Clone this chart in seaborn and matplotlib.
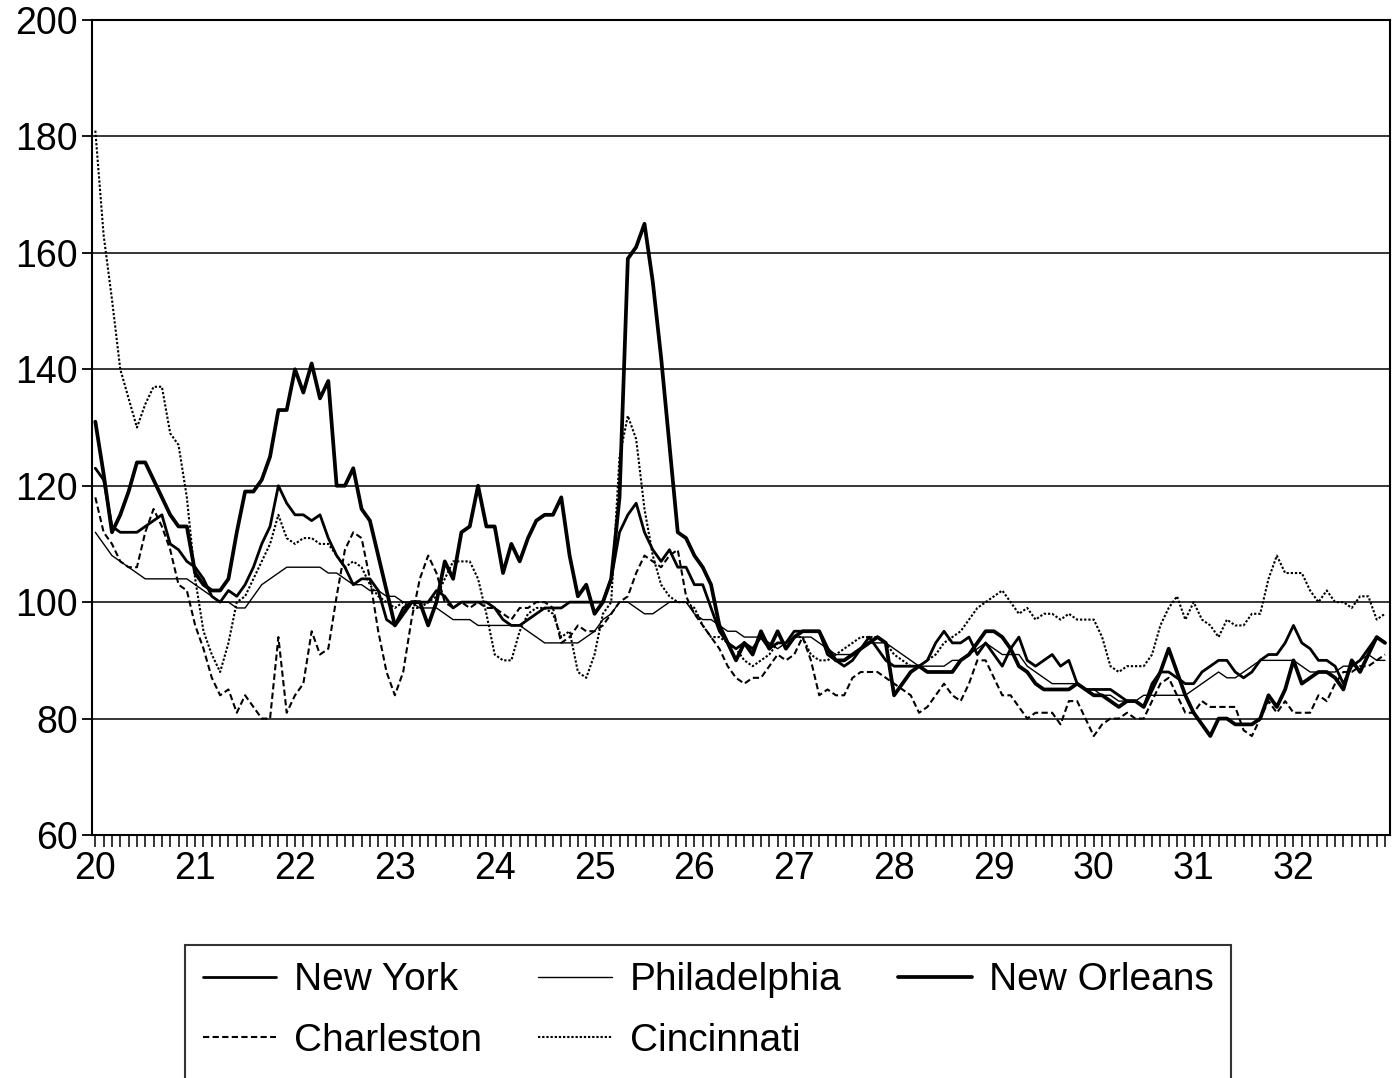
import numpy as np
import pandas as pd
import matplotlib
matplotlib.use("Agg")
import matplotlib.pyplot as plt
from matplotlib.lines import Line2D
import seaborn as sns

# Monthly price index, Jan 1820 - Dec 1832 (one row of 12 per year)
years = list(range(1820, 1833))
year_labels = [str(y)[2:] for y in years]
y_ticks = [60, 80, 100, 120, 140, 160, 180, 200]

new_york = [
    123, 121, 113, 112, 112, 112, 113, 114, 115, 110, 109, 107,
    106, 104, 101, 100, 102, 101, 103, 106, 110, 113, 120, 117,
    115, 115, 114, 115, 111, 108, 106, 103, 104, 104, 102, 97,
    96, 99, 100, 100, 100, 102, 101, 99, 100, 100, 100, 100,
    99, 97, 96, 96, 97, 98, 99, 99, 99, 100, 100, 100,
    100, 100, 104, 112, 115, 117, 112, 109, 107, 109, 106, 106,
    103, 103, 99, 95, 93, 92, 93, 92, 94, 92, 93, 93,
    95, 95, 95, 95, 91, 90, 89, 90, 92, 94, 92, 90,
    89, 89, 89, 89, 90, 93, 95, 93, 93, 94, 91, 93,
    91, 89, 92, 94, 90, 89, 90, 91, 89, 90, 86, 85,
    85, 85, 85, 84, 83, 83, 82, 86, 88, 88, 87, 86,
    86, 88, 89, 90, 90, 88, 87, 88, 90, 91, 91, 93,
    96, 93, 92, 90, 90, 89, 86, 89, 90, 92, 94, 93,
]

philadelphia = [
    112, 110, 108, 107, 106, 105, 104, 104, 104, 104, 104, 104,
    103, 102, 101, 100, 100, 99, 99, 101, 103, 104, 105, 106,
    106, 106, 106, 106, 105, 105, 104, 103, 103, 102, 102, 101,
    101, 100, 100, 99, 99, 99, 98, 97, 97, 97, 96, 96,
    96, 96, 96, 96, 95, 94, 93, 93, 93, 93, 93, 94,
    95, 97, 98, 100, 100, 99, 98, 98, 99, 100, 100, 100,
    98, 97, 97, 96, 95, 95, 94, 94, 94, 93, 92, 93,
    94, 94, 94, 93, 92, 91, 91, 91, 92, 93, 93, 93,
    92, 91, 90, 89, 89, 89, 89, 90, 90, 91, 92, 93,
    92, 91, 91, 91, 89, 88, 87, 86, 86, 86, 86, 85,
    85, 84, 84, 83, 83, 83, 84, 84, 84, 84, 84, 84,
    85, 86, 87, 88, 87, 87, 88, 89, 90, 90, 90, 90,
    90, 89, 88, 88, 88, 88, 89, 89, 90, 91, 90, 90,
]

new_orleans = [
    131, 122, 112, 115, 119, 124, 124, 121, 118, 115, 113, 113,
    105, 103, 102, 102, 104, 112, 119, 119, 121, 125, 133, 133,
    140, 136, 141, 135, 138, 120, 120, 123, 116, 114, 108, 102,
    96, 98, 100, 100, 96, 100, 107, 104, 112, 113, 120, 113,
    113, 105, 110, 107, 111, 114, 115, 115, 118, 108, 101, 103,
    98, 100, 104, 118, 159, 161, 165, 155, 142, 127, 112, 111,
    108, 106, 103, 96, 93, 90, 93, 91, 95, 92, 95, 92,
    94, 95, 95, 95, 92, 90, 90, 91, 92, 93, 94, 93,
    84, 86, 88, 89, 88, 88, 88, 88, 90, 91, 93, 95,
    95, 94, 92, 89, 88, 86, 85, 85, 85, 85, 86, 85,
    84, 84, 83, 82, 83, 83, 82, 85, 88, 92, 88, 84,
    81, 79, 77, 80, 80, 79, 79, 79, 80, 84, 82, 85,
    90, 86, 87, 88, 88, 87, 85, 90, 88, 91, 94, 93,
]

charleston = [
    118, 112, 110, 107, 106, 106, 112, 116, 113, 109, 103, 102,
    96, 92, 87, 84, 85, 81, 84, 82, 80, 80, 94, 81,
    84, 86, 95, 91, 92, 101, 109, 112, 111, 104, 95, 88,
    84, 88, 97, 104, 108, 105, 100, 99, 100, 99, 100, 99,
    99, 98, 97, 99, 99, 100, 100, 99, 93, 94, 96, 95,
    95, 96, 98, 100, 101, 105, 108, 107, 106, 108, 109, 101,
    98, 96, 94, 92, 89, 87, 86, 87, 87, 89, 91, 90,
    91, 94, 90, 84, 85, 84, 84, 87, 88, 88, 88, 87,
    86, 85, 84, 81, 82, 84, 86, 84, 83, 86, 90, 90,
    87, 84, 84, 82, 80, 81, 81, 81, 79, 83, 83, 80,
    77, 79, 80, 80, 81, 80, 80, 83, 86, 87, 84, 81,
    81, 83, 82, 82, 82, 82, 78, 77, 80, 83, 81, 83,
    81, 81, 81, 84, 83, 86, 88, 88, 89, 89, 90, 91,
]

cincinnati = [
    181, 163, 152, 140, 135, 130, 134, 137, 137, 129, 127, 118,
    104, 95, 91, 88, 93, 100, 101, 104, 107, 110, 115, 111,
    110, 111, 111, 110, 110, 108, 106, 107, 106, 103, 101, 100,
    99, 100, 99, 99, 100, 101, 104, 107, 107, 107, 104, 98,
    91, 90, 90, 95, 98, 99, 99, 98, 94, 95, 88, 87,
    91, 98, 100, 125, 132, 128, 116, 108, 103, 101, 100, 100,
    99, 96, 94, 94, 93, 92, 90, 89, 90, 91, 93, 93,
    94, 94, 91, 90, 90, 91, 92, 93, 94, 94, 94, 93,
    91, 90, 89, 89, 90, 91, 93, 94, 95, 97, 99, 100,
    101, 102, 100, 98, 99, 97, 98, 98, 97, 98, 97, 97,
    97, 94, 89, 88, 89, 89, 89, 91, 96, 99, 101, 97,
    100, 97, 96, 94, 97, 96, 96, 98, 98, 104, 108, 105,
    105, 105, 102, 100, 102, 100, 100, 99, 101, 101, 97, 98,
]

cities = ["Philadelphia", "Charleston", "Cincinnati", "New York", "New Orleans"]
series = {
    "New York": new_york,
    "Philadelphia": philadelphia,
    "New Orleans": new_orleans,
    "Charleston": charleston,
    "Cincinnati": cincinnati,
}

n_months = len(years) * 12
frames = []
for city in cities:
    frames.append(pd.DataFrame({"month": np.arange(n_months),
                                "value": series[city],
                                "city": city}))
df = pd.concat(frames, ignore_index=True)

palette = {c: "black" for c in cities}
sizes = {"New York": 2.0, "Philadelphia": 1.0, "New Orleans": 2.7,
         "Charleston": 1.5, "Cincinnati": 1.5}
dashes = {"New York": "", "Philadelphia": "", "New Orleans": "",
          "Charleston": (3, 1.6), "Cincinnati": (1.1, 0.9)}

sns.set_theme(style="white")
plt.rcParams["font.family"] = ["Liberation Sans", "DejaVu Sans"]
plt.rcParams["text.color"] = "black"

fig = plt.figure(figsize=(13.98, 10.78), dpi=100)
ax = fig.add_axes([92 / 1398, 1 - 835 / 1078, (1390 - 92) / 1398, (835 - 20) / 1078])

sns.lineplot(data=df, x="month", y="value", hue="city", style="city", size="city",
             hue_order=cities, style_order=cities, size_order=cities,
             palette=palette, sizes=sizes, dashes=dashes,
             estimator=None, sort=False, legend=False, ax=ax)

ax.set_xlim(-0.4, n_months - 0.4)
ax.set_ylim(60, 200)
ax.set_yticks(y_ticks)
ax.set_yticklabels([str(v) for v in y_ticks])
ax.set_xticks(np.arange(0, n_months, 12))
ax.set_xticklabels(year_labels)
ax.set_xticks(np.arange(n_months), minor=True)
ax.set_xlabel("")
ax.set_ylabel("")

ax.yaxis.grid(True, color="black", linewidth=1.1)
ax.xaxis.grid(False)
ax.set_axisbelow(True)

for side in ["left", "bottom", "top", "right"]:
    ax.spines[side].set_visible(True)
    ax.spines[side].set_color("black")
    ax.spines[side].set_linewidth(1.5)

ax.tick_params(axis="y", which="major", direction="out", length=7, width=1.3,
               pad=3, labelsize=27, colors="black", left=True)
ax.tick_params(axis="x", which="both", direction="out", length=8.5, width=1.1,
               bottom=True, colors="black")
ax.tick_params(axis="x", which="major", pad=3, labelsize=27)

# Legend below the plot, three columns filled column by column
def handle(city):
    return Line2D([], [], color="black", linewidth=sizes[city],
                  dashes=dashes[city] if dashes[city] else (None, None))

blank = Line2D([], [], color="none")
handles = [handle("New York"), handle("Charleston"), blank,
           handle("Philadelphia"), handle("Cincinnati"), blank,
           handle("New Orleans"), blank, blank]
labels = ["New York", "Charleston", "",
          "Philadelphia", "Cincinnati", "",
          "New Orleans", "", ""]
leg = fig.legend(handles, labels, ncol=3, loc="upper left",
                 bbox_to_anchor=(185 / 1398, 1 - 945 / 1078),
                 borderaxespad=0, fontsize=28, labelcolor="black",
                 frameon=True, fancybox=False, shadow=False,
                 handlelength=1.9, handletextpad=0.45, columnspacing=1.45,
                 labelspacing=0.62, borderpad=0.45)
leg.get_frame().set_edgecolor("black")
leg.get_frame().set_linewidth(1.5)

fig.savefig("out.png", dpi=100, facecolor="white")
